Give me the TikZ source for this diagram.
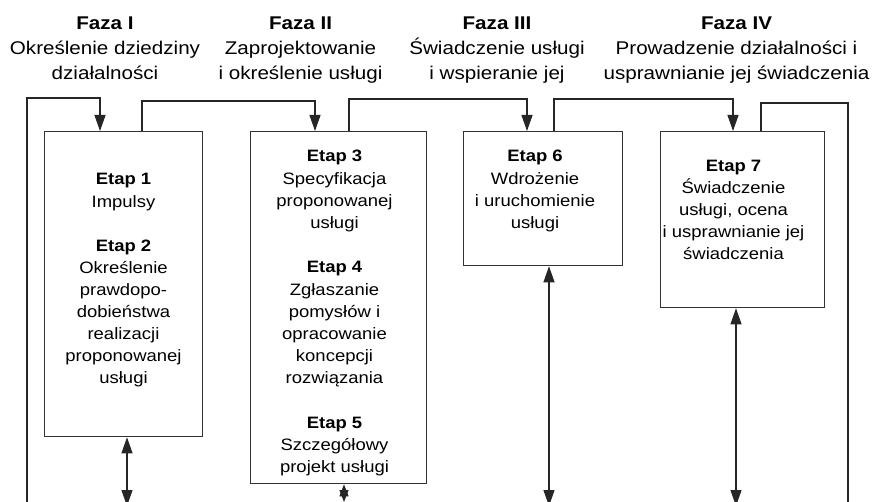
\documentclass[tikz,border=0pt]{standalone}
\usepackage{fontspec}
\setmainfont[FakeStretch=1.12]{Liberation Sans}
\usetikzlibrary{arrows.meta}

% font sizes: phase headings and stage boxes
\newcommand\headfont{\fontsize{18.4pt}{25pt}\selectfont}
\newcommand\stagefont{\fontsize{16.5pt}{22.1pt}\selectfont}
% centred lines whose baseline is the first line's baseline
\newcommand\textlines[1]{\begin{tabular}[t]{@{}c@{}}#1\end{tabular}}

\begin{document}
\begin{tikzpicture}[x=1pt,y=-1pt,
  stagebox/.style={draw=black!80, line width=1.3pt, fill=white, inner sep=0pt, anchor=north west},
  phasetext/.style={anchor=base, inner sep=0pt, font=\headfont, text=black},
  stagetext/.style={anchor=base, inner sep=0pt, font=\stagefont, text=black},
  link/.style={draw=black!85, line width=1.1pt, -{Triangle[length=16pt,width=11pt]}},
  plainlink/.style={draw=black!85, line width=1.1pt},
  both/.style={draw=black!85, line width=1.1pt, {Triangle[length=16pt,width=11pt]}-{Triangle[length=16pt,width=11pt]}},
  bothsmall/.style={draw=black!85, line width=1.1pt, {Triangle[length=12pt,width=9pt]}-{Triangle[length=12pt,width=9pt]}}
]
\useasboundingbox (0,0) rectangle (872,502);
\fill[white] (0,0) rectangle (872,502);

% phase headings
\node[phasetext] (h1) at (105,29.5) {\textlines{\textbf{Faza I}\\Określenie dziedziny\\działalności}};
\node[phasetext] (h2) at (300.5,29.5) {\textlines{\textbf{Faza II}\\Zaprojektowanie\\i określenie usługi}};
\node[phasetext] (h3) at (497,29.5) {\textlines{\textbf{Faza III}\\Świadczenie usługi\\i wspieranie jej}};
\node[phasetext] (h4) at (736.5,29.5) {\textlines{\textbf{Faza IV}\\Prowadzenie działalności i\\usprawnianie jej świadczenia}};

% stage boxes
\node[stagebox, minimum width=158pt, minimum height=305pt] (b1) at (44,131) {};
\node[stagebox, minimum width=176pt, minimum height=352pt] (b2) at (250,131) {};
\node[stagebox, minimum width=159pt, minimum height=134pt] (b3) at (463,131) {};
\node[stagebox, minimum width=164pt, minimum height=176pt] (b4) at (660,131) {};

% stage descriptions
\node[stagetext] (t1) at (123.5,185) {\textlines{\textbf{Etap 1}\\Impulsy\\ \\\textbf{Etap 2}\\Określenie\\prawdopo-\\dobieństwa\\realizacji\\proponowanej\\usługi}};
\node[stagetext] (t2) at (334.5,162) {\fontsize{16.5pt}{22.2pt}\selectfont\textlines{\textbf{Etap 3}\\Specyfikacja\\proponowanej\\usługi\\ \\\textbf{Etap 4}\\Zgłaszanie\\pomysłów i\\opracowanie\\koncepcji\\rozwiązania\\ \\\textbf{Etap 5}\\Szczegółowy\\projekt usługi}};
\node[stagetext] (t3) at (535,162) {\textlines{\textbf{Etap 6}\\Wdrożenie\\i uruchomienie\\usługi}};
\node[stagetext] (t4) at (733.5,171.5) {\textlines{\textbf{Etap 7}\\Świadczenie\\usługi, ocena\\i usprawnianie jej\\świadczenia}};

% loose ends below the picture edge
\coordinate (l0) at (27,506);
\coordinate (r0) at (848,506);
\coordinate (d1) at (127,506);
\coordinate (d2) at (344,502);
\coordinate (d3) at (549,506);
\coordinate (d4) at (736,506);

% forward links between the stages
\draw[link] (l0) |- ([xshift=56pt,yshift=33pt]b1.north west) -- ([xshift=56pt]b1.north west);
\draw[link] ([xshift=98pt]b1.north west) |- ([xshift=65pt,yshift=30pt]b2.north west) -- ([xshift=65pt]b2.north west);
\draw[link] ([xshift=99pt]b2.north west) |- ([xshift=64pt,yshift=32pt]b3.north west) -- ([xshift=64pt]b3.north west);
\draw[link] ([xshift=91pt]b3.north west) |- ([xshift=73pt,yshift=32pt]b4.north west) -- ([xshift=73pt]b4.north west);
\draw[plainlink] ([xshift=101pt]b4.north west) |- ([yshift=28pt]b4.north west -| r0) -- (r0);

% two-way links below the stages
\draw[both] (b1.south west -| d1) -- (d1);
\draw[bothsmall] (b2.south west -| d2) -- (d2);
\draw[both] (b3.south west -| d3) -- (d3);
\draw[both] (b4.south west -| d4) -- (d4);
\end{tikzpicture}
\end{document}
